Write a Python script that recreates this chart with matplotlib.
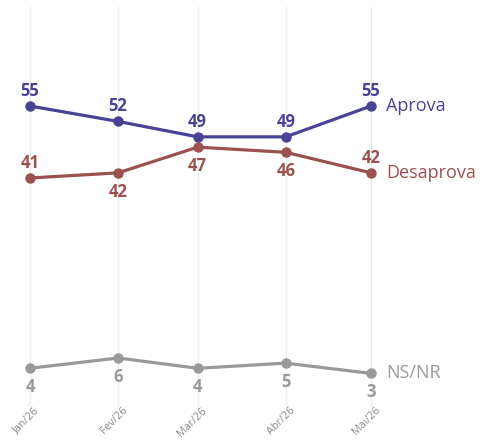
import matplotlib
matplotlib.use("Agg")
import matplotlib.pyplot as plt
import matplotlib.dates as mdates
import datetime as dt

months = ["2026-01-01", "2026-02-01", "2026-03-01", "2026-04-01", "2026-05-01"]
tick_labels = ["Jan/26", "Fev/26", "Mar/26", "Abr/26", "Mai/26"]
aprova = [55, 52, 49, 49, 55]
desaprova = [41, 42, 47, 46, 42]
nsnr = [4, 6, 4, 5, 3]

dates = [dt.datetime.strptime(m, "%Y-%m-%d") for m in months]
x = mdates.date2num(dates)

plt.rcParams['font.family'] = ['Open Sans', 'DejaVu Sans']

W, H = 482, 444
fig = plt.figure(figsize=(W / 100, H / 100), dpi=100)
fig.patch.set_facecolor('white')

ax = fig.add_axes([0, (H - 407) / H, 1, 400 / H])
ax.set_facecolor('none')
px_day = 341 / (x[-1] - x[0])
ax.set_xlim(x[0] - 30 / px_day, x[0] + (W - 30) / px_day)
ppu = 72 / 14
ax.set_ylim(55 - (407 - 106) / ppu, 55 + (106 - 7) / ppu)
for s in ax.spines.values():
    s.set_visible(False)
ax.set_yticks([])
ax.set_xticks(x)
ax.set_xticklabels(tick_labels, rotation=45, ha='right', rotation_mode='anchor',
                   fontsize=7.8, color='#888888')
ax.tick_params(axis='x', length=0, pad=0)
for lab in ax.get_xticklabels():
    lab.set_transform(lab.get_transform() + matplotlib.transforms.ScaledTranslation(4 / 100, 2 / 100, fig.dpi_scale_trans))
ax.grid(axis='x', color='#ebebeb', linewidth=1.0)
ax.set_axisbelow(True)

series = [
    ("Aprova", aprova, '#4a4395', ['above'] * 5),
    ("Desaprova", desaprova, '#9a5250', ['above', 'below', 'below', 'below', 'above']),
    ("NS/NR", nsnr, '#999999', ['below'] * 5),
]
for name, vals, col, pos in series:
    ax.plot(x, vals, color=col, linewidth=2.3, marker='o', markersize=6.5,
            solid_capstyle='round', zorder=3, clip_on=False)
    for xi, v, p in zip(x, vals, pos):
        off = 15 if p == 'above' else -19
        ax.annotate(str(v), (xi, v), xytext=(0, off * 0.72), textcoords='offset points',
                    ha='center', va='center', fontsize=12, fontweight='bold', color=col)
    ax.annotate(name, (x[-1], vals[-1]), xytext=(15 * 0.72, 0), textcoords='offset points',
                ha='left', va='center', fontsize=13, color=col)

fig.savefig("out.png", dpi=100)
